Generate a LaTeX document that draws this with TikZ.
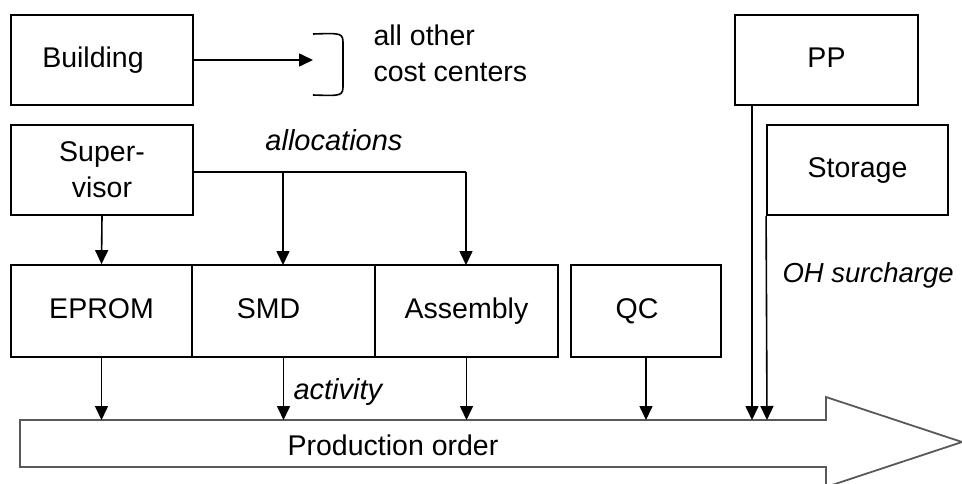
\documentclass[tikz,border=0pt]{standalone}
\usepackage{fontspec}
\setmainfont{Liberation Sans}
\usetikzlibrary{arrows.meta}
\begin{document}
\begin{tikzpicture}[>={Triangle[length=14pt,width=13pt]},x=1pt,y=-1pt,
	every node/.style={font=\fontsize{28.5}{36}\selectfont},
	box/.style={draw,line width=1.8pt,minimum height=90pt,inner sep=0pt,align=center,text height=20pt,text depth=6pt},
	flow/.style={->,line width=1.6pt},
	note/.style={font=\fontsize{29}{35}\selectfont\itshape}]
	\useasboundingbox (0,0) rectangle (962,483);
	% cost centers
	\node[box,minimum width=182pt] (building) at (102,60) {Building\hspace*{18pt}};
	\node[box,minimum width=182pt,text height=,text depth=] (supervisor) at (102,170) {Super-\\visor};
	\node[box,minimum width=181pt,minimum height=92pt] (eprom) at (101.5,311) {EPROM};
	\node[box,minimum width=183pt,minimum height=92pt] (smd) at (283.5,311) {SMD\hspace*{30pt}};
	\node[box,minimum width=183pt,minimum height=92pt] (assembly) at (466.5,311) {Assembly};
	\node[box,minimum width=150pt,minimum height=92pt] (qc) at (646,311) {QC\hspace*{18pt}};
	\node[box,minimum width=183pt] (pp) at (826.5,60) {PP};
	\node[box,minimum width=181pt] (storage) at (857.5,170) {Storage};
	% production order
	\draw[line width=1.8pt,black!65] (20,420)--(826,420)--(826,397)--(962,442)--(826,487)--(826,467)--(20,467)--cycle;
	\node (order) at (393,445) {Production order};
	\coordinate (shaft) at (0,420);
	% building to the others
	\coordinate (others) at (313,60);
	\draw[flow] (building.east|-others)--(others);
	\draw[line width=1.6pt] (313,34) .. controls (343,33) .. (343,45)--(343,84) .. controls (343,96) .. (313,95);
	\node[anchor=west,align=left] (rest) at (370,53) {all other\\cost centers};
	% allocations
	\draw[line width=1.6pt] (supervisor.east|-0,172)--(466,172);
	\draw[flow] (supervisor.south)--(eprom.north);
	\draw[flow] (283,172)--(283,265);
	\draw[flow] (466,172)--(466,265);
	\node[note] (alloc) at (334,140) {allocations};
	% activity
	\draw[flow] (eprom.south)--(eprom|-shaft);
	\draw[flow] (smd.south)--(smd|-shaft);
	\draw[flow] (assembly.south)--(assembly|-shaft);
	\draw[flow] (qc.south)--(qc|-shaft);
	\node[note,anchor=west] (act) at (290,392) {activity};
	% overhead
	\draw[flow] (752,105)--(752,420);
	\draw[flow] (storage.south west)--(767,420);
	\node[note,anchor=west,font=\fontsize{27.5}{35}\selectfont\itshape] (oh) at (779,275) {OH surcharge};
\end{tikzpicture}
\end{document}
